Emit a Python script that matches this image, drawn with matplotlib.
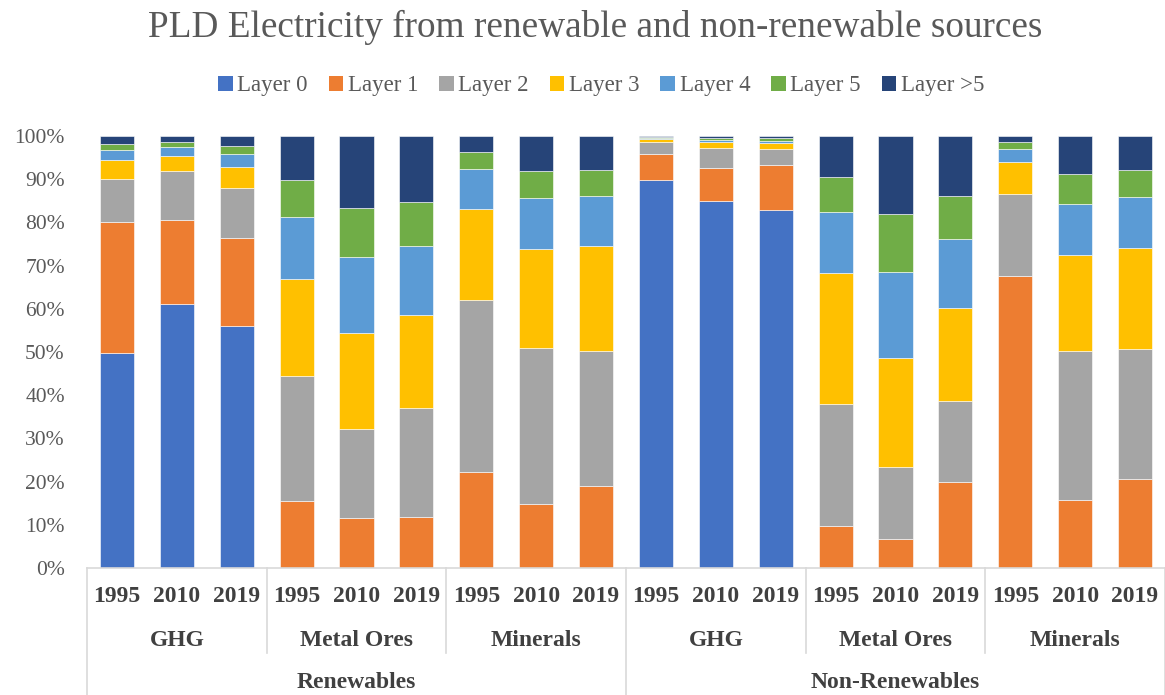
import matplotlib
matplotlib.use('Agg')
import matplotlib.pyplot as plt
from matplotlib.lines import Line2D
from matplotlib.patches import Patch
import matplotlib.transforms as mtransforms
import numpy as np

plt.rcParams['font.family'] = ['Liberation Serif', 'DejaVu Serif']

# 数据 (%), order: Renewables GHG / Metal Ores / Minerals, Non-Renewables GHG / Metal Ores / Minerals
years = ['1995', '2010', '2019']
groups = ['GHG', 'Metal Ores', 'Minerals', 'GHG', 'Metal Ores', 'Minerals']
sources = ['Renewables', 'Non-Renewables']
layer_names = ['Layer 0', 'Layer 1', 'Layer 2', 'Layer 3', 'Layer 4', 'Layer 5', 'Layer >5']

layer0 = [49.7, 61.0, 56.1, 0, 0, 0, 0, 0, 0, 89.7, 84.9, 82.8, 0, 0, 0, 0, 0, 0]
layer1 = [30.3, 19.5, 20.2, 15.6, 11.5, 11.8, 22.2, 14.7, 18.9, 6.2, 7.7, 10.6, 9.7, 6.6, 19.9, 67.6, 15.8, 20.5]
layer2 = [10.0, 11.4, 11.6, 28.9, 20.7, 25.3, 39.8, 36.3, 31.4, 2.8, 4.6, 3.5, 28.2, 16.8, 18.8, 18.9, 34.5, 30.3]
layer3 = [4.5, 3.5, 5.0, 22.3, 22.2, 21.4, 21.2, 22.9, 24.2, 0.6, 1.3, 1.4, 30.4, 25.2, 21.5, 7.5, 22.1, 23.3]
layer4 = [2.3, 2.0, 3.0, 14.4, 17.5, 16.0, 9.1, 11.7, 11.5, 0.2, 0.6, 0.6, 14.2, 20.0, 15.9, 3.1, 11.9, 11.7]
layer5 = [1.3, 1.2, 1.8, 8.5, 11.4, 10.2, 4.0, 6.3, 6.1, 0.3, 0.4, 0.6, 8.0, 13.4, 10.1, 1.5, 6.8, 6.3]
layer6 = [1.9, 1.4, 2.3, 10.3, 16.7, 15.3, 3.7, 8.1, 7.9, 0.2, 0.5, 0.5, 9.5, 18.0, 13.8, 1.4, 8.9, 7.9]

colors = ['#4472C4', '#ED7D31', '#A5A5A5', '#FFC000', '#5B9BD5', '#70AD47', '#264478']

layers = [layer0, layer1, layer2, layer3, layer4, layer5, layer6]
n = len(layer0)
x = np.arange(n)

fig = plt.figure(figsize=(11.65, 6.95), dpi=100)
ax = fig.add_axes([87 / 1165, 1 - 568 / 695, (1165 - 87) / 1165, (568 - 136) / 695])

bottom = np.zeros(n)
for vals, c in zip(layers, colors):
    vals = np.array(vals, dtype=float)
    ax.bar(x, vals, bottom=bottom, width=0.57, color=c, edgecolor='white', linewidth=0.4)
    bottom += vals

ax.set_xlim(-0.5, n - 0.5)
ax.set_ylim(0, 100)
ax.set_yticks(range(0, 101, 10))
ax.set_yticklabels(['{}%'.format(v) for v in range(0, 101, 10)], fontsize=15.5, color='#595959')
ax.tick_params(axis='y', length=0, pad=16)
ax.set_xticks([])
for s in ['top', 'right', 'left']:
    ax.spines[s].set_visible(False)
ax.spines['bottom'].set_color('#D9D9D9')
ax.spines['bottom'].set_linewidth(1.2)

# 카테고리 축 (3단)
trans = mtransforms.blended_transform_factory(ax.transData, fig.transFigure)
for i in range(n):
    fig.text(i, 1 - 597 / 695, years[i % 3], transform=trans, ha='center', va='center',
             fontsize=17, fontweight='bold', color='#404040')
for g in range(len(groups)):
    fig.text(g * 3 + 1, 1 - 640 / 695, groups[g], transform=trans, ha='center', va='center',
             fontsize=17, fontweight='bold', color='#404040')
for s in range(len(sources)):
    fig.text(s * 9 + 4, 1 - 683 / 695, sources[s], transform=trans, ha='center', va='center',
             fontsize=17, fontweight='bold', color='#404040')

for g in range(len(groups) + 1):
    xb = g * 3 - 0.5
    y_end = 0 if g % 3 == 0 else 1 - 653 / 695
    fig.add_artist(Line2D([xb, xb], [1 - 568 / 695, y_end], transform=trans,
                          color='#D9D9D9', linewidth=1.2))

handles = [Patch(facecolor=c, edgecolor='none') for c in colors]
fig.legend(handles, layer_names, loc='center', bbox_to_anchor=(0.516, 1 - 86 / 695), ncol=7,
           frameon=False, fontsize=16.5, handlelength=0.65, handleheight=0.65,
           handletextpad=0.2, columnspacing=0.9, labelcolor='#595959')

fig.text(0.511, 1 - 27 / 695, 'PLD Electricity from renewable and non-renewable sources',
         ha='center', va='center', fontsize=26.8, color='#595959')

plt.savefig('out.png', dpi=100)
